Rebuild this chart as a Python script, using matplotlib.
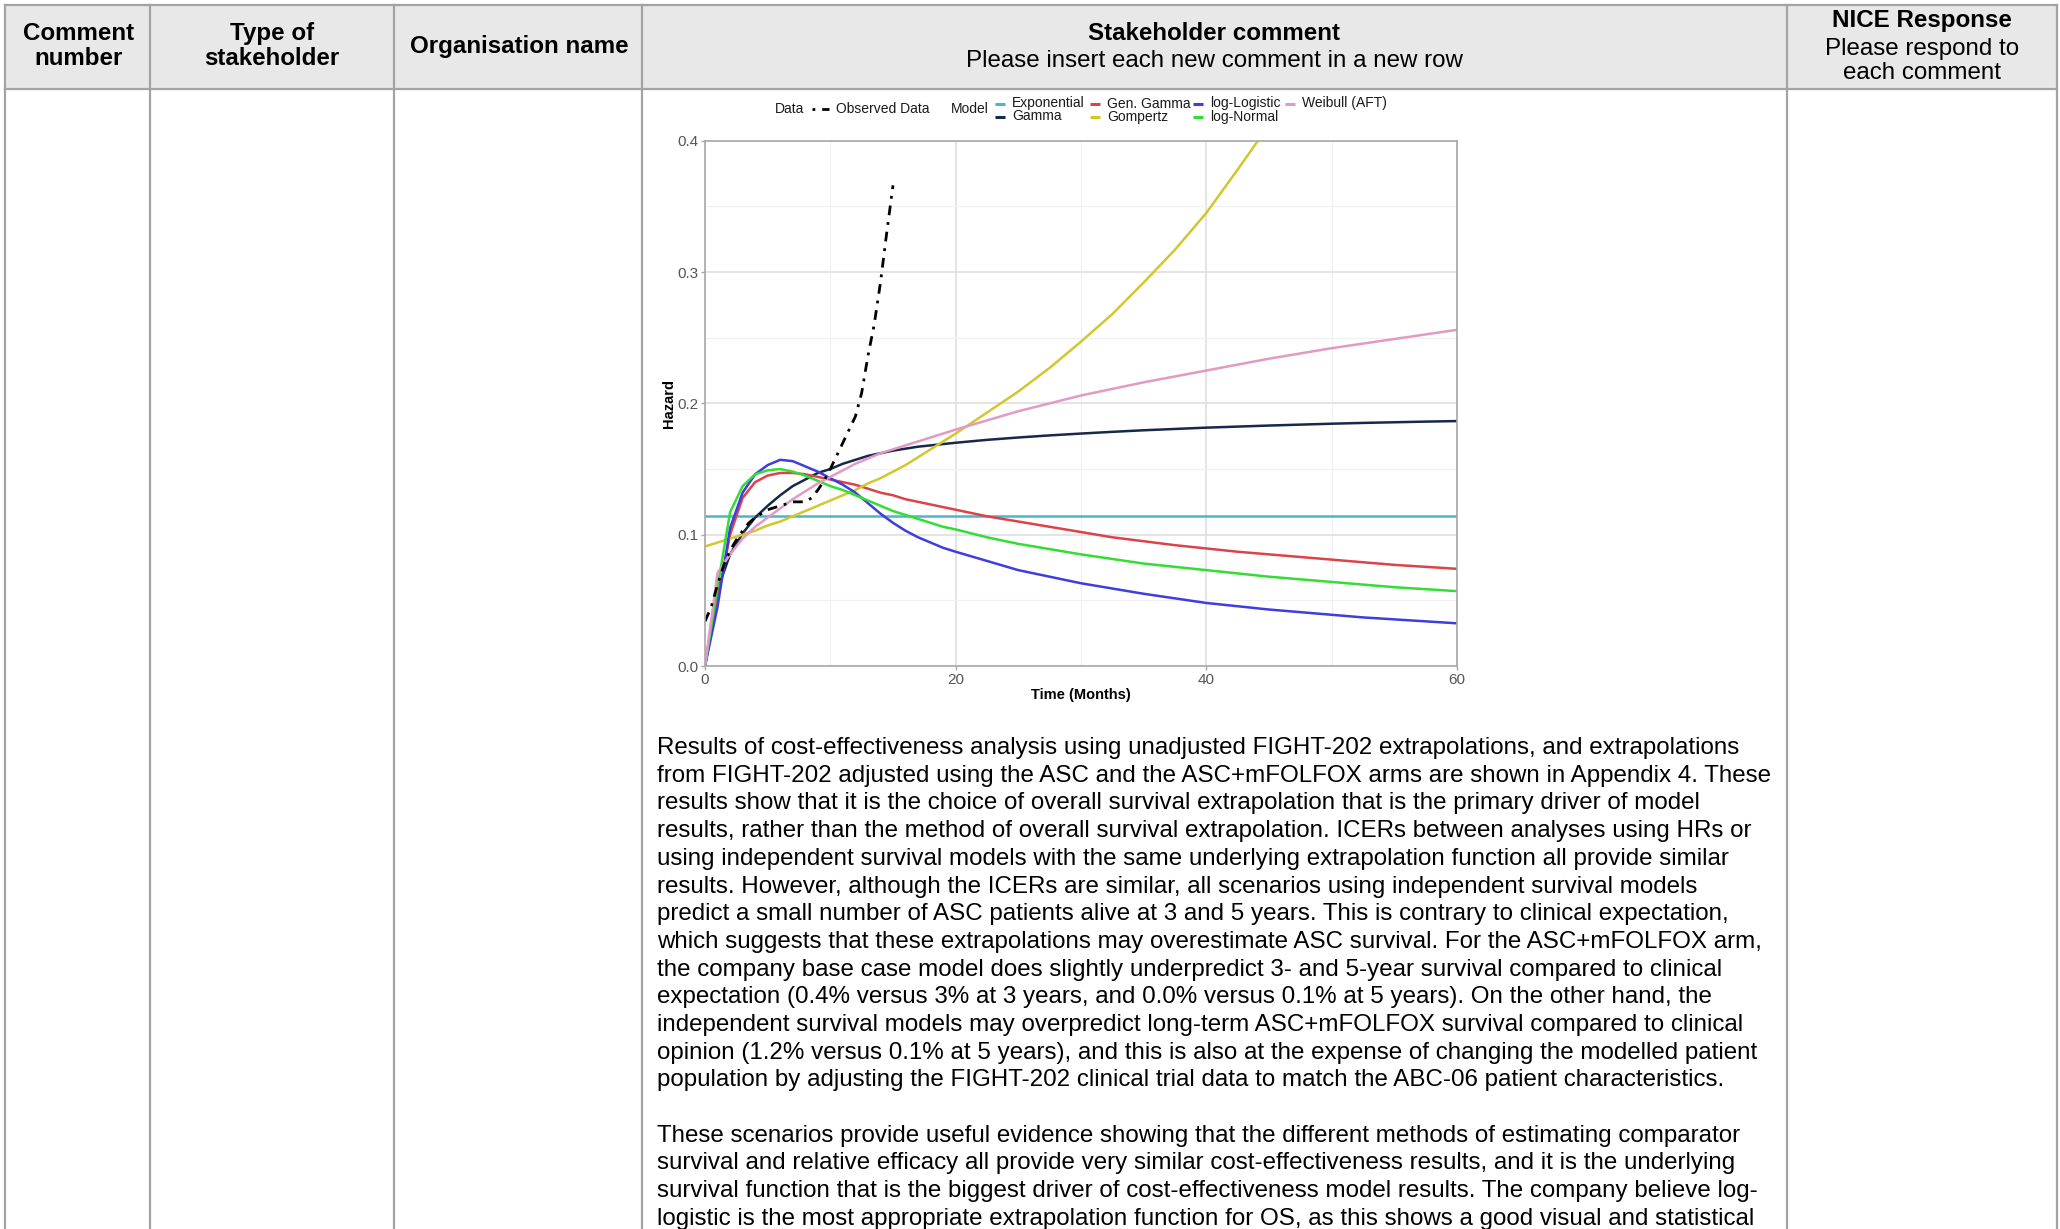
import numpy as np
import matplotlib.pyplot as plt
from matplotlib.patches import Rectangle
from matplotlib.ticker import MultipleLocator

plt.rcParams['font.family'] = ['Liberation Sans', 'DejaVu Sans']

# ---- hazard data (months, hazard) ----
months = [0, 1, 2, 3, 4, 5, 6, 7, 8, 9, 10, 11, 12, 13, 14, 15, 16, 17, 18, 19, 20,
          22.5, 25, 27.5, 30, 32.5, 35, 37.5, 40, 42.5, 45, 47.5, 50, 52.5, 55, 57.5, 60]

haz_exponential = [0.114] * len(months)
haz_gamma = [0, 0.058, 0.085, 0.101, 0.113, 0.122, 0.130, 0.137, 0.142, 0.147, 0.150,
             0.154, 0.157, 0.160, 0.162, 0.164, 0.1655, 0.167, 0.168, 0.169, 0.170,
             0.1722, 0.1740, 0.1756, 0.1770, 0.1783, 0.1795, 0.1805, 0.1815, 0.1823, 0.1831,
             0.1838, 0.1845, 0.1851, 0.1856, 0.1861, 0.1865]
haz_gen_gamma = [0, 0.050, 0.100, 0.128, 0.140, 0.145, 0.147, 0.147, 0.146, 0.144, 0.142,
                 0.140, 0.138, 0.135, 0.132, 0.130, 0.127, 0.125, 0.123, 0.121, 0.119,
                 0.114, 0.110, 0.106, 0.102, 0.098, 0.095, 0.092, 0.0895, 0.087, 0.085,
                 0.083, 0.081, 0.079, 0.077, 0.0755, 0.074]
haz_gompertz = [0.091, 0.094, 0.097, 0.100, 0.103, 0.107, 0.110, 0.114, 0.118, 0.122, 0.126,
                0.130, 0.134, 0.139, 0.143, 0.148, 0.153, 0.159, 0.165, 0.171, 0.177,
                0.193, 0.209, 0.227, 0.247, 0.268, 0.292, 0.317, 0.345, 0.378, 0.412,
                np.nan, np.nan, np.nan, np.nan, np.nan, np.nan]
haz_loglogistic = [0, 0.045, 0.105, 0.132, 0.146, 0.153, 0.157, 0.156, 0.152, 0.148, 0.143,
                   0.138, 0.132, 0.124, 0.116, 0.109, 0.103, 0.098, 0.094, 0.090, 0.087,
                   0.080, 0.073, 0.068, 0.063, 0.059, 0.055, 0.0515, 0.048, 0.0455, 0.043,
                   0.041, 0.039, 0.037, 0.0355, 0.034, 0.0325]
haz_lognormal = [0, 0.060, 0.117, 0.137, 0.146, 0.149, 0.150, 0.148, 0.145, 0.141, 0.137,
                 0.134, 0.130, 0.126, 0.122, 0.118, 0.115, 0.112, 0.109, 0.106, 0.104,
                 0.098, 0.093, 0.089, 0.085, 0.0815, 0.078, 0.0755, 0.073, 0.0705, 0.068,
                 0.066, 0.064, 0.062, 0.060, 0.0585, 0.057]
haz_weibull = [0, 0.071, 0.085, 0.097, 0.106, 0.113, 0.120, 0.127, 0.133, 0.139, 0.144,
               0.149, 0.154, 0.158, 0.162, 0.165, 0.168, 0.171, 0.174, 0.177, 0.180,
               0.187, 0.194, 0.200, 0.206, 0.211, 0.216, 0.2205, 0.225, 0.2295, 0.234,
               0.238, 0.242, 0.2455, 0.249, 0.2525, 0.256]

obs_months = [0, 0.5, 1, 1.5, 2, 2.5, 3, 3.5, 4, 5, 6, 7, 8, 8.5, 9, 9.5, 10, 10.5, 11, 11.5,
              12, 12.5, 13, 13.5, 14, 14.5, 15]
obs_hazard = [0.034, 0.045, 0.062, 0.077, 0.088, 0.096, 0.103, 0.109, 0.113, 0.119, 0.122, 0.125,
              0.125, 0.128, 0.134, 0.141, 0.150, 0.160, 0.170, 0.180, 0.190, 0.208, 0.236, 0.260,
              0.292, 0.330, 0.366]

model_names = ["Exponential", "Gamma", "Gen. Gamma", "Gompertz", "log-Logistic", "log-Normal", "Weibull (AFT)"]
model_values = [haz_exponential, haz_gamma, haz_gen_gamma, haz_gompertz, haz_loglogistic, haz_lognormal, haz_weibull]
model_colors = ["#4db5cb", "#17294a", "#dc4348", "#d2c72c", "#3d3de0", "#33dd33", "#e39ac2"]

x_ticks = [0, 20, 40, 60]
y_ticks = [0.0, 0.1, 0.2, 0.3, 0.4]
y_tick_labels = ["0.0", "0.1", "0.2", "0.3", "0.4"]

# ---- comment text ----
para1 = [
    "Results of cost-effectiveness analysis using unadjusted FIGHT-202 extrapolations, and extrapolations",
    "from FIGHT-202 adjusted using the ASC and the ASC+mFOLFOX arms are shown in Appendix 4. These",
    "results show that it is the choice of overall survival extrapolation that is the primary driver of model",
    "results, rather than the method of overall survival extrapolation. ICERs between analyses using HRs or",
    "using independent survival models with the same underlying extrapolation function all provide similar",
    "results. However, although the ICERs are similar, all scenarios using independent survival models",
    "predict a small number of ASC patients alive at 3 and 5 years. This is contrary to clinical expectation,",
    "which suggests that these extrapolations may overestimate ASC survival. For the ASC+mFOLFOX arm,",
    "the company base case model does slightly underpredict 3- and 5-year survival compared to clinical",
    "expectation (0.4% versus 3% at 3 years, and 0.0% versus 0.1% at 5 years). On the other hand, the",
    "independent survival models may overpredict long-term ASC+mFOLFOX survival compared to clinical",
    "opinion (1.2% versus 0.1% at 5 years), and this is also at the expense of changing the modelled patient",
    "population by adjusting the FIGHT-202 clinical trial data to match the ABC-06 patient characteristics.",
]
para2 = [
    "These scenarios provide useful evidence showing that the different methods of estimating comparator",
    "survival and relative efficacy all provide very similar cost-effectiveness results, and it is the underlying",
    "survival function that is the biggest driver of cost-effectiveness model results. The company believe log-",
    "logistic is the most appropriate extrapolation function for OS, as this shows a good visual and statistical",
]

W, H = 2060, 1229
fig = plt.figure(figsize=(W / 100, H / 100), dpi=100)

# page layer in pixel coordinates for the table
page = fig.add_axes([0, 0, 1, 1])
page.set_xlim(0, W)
page.set_ylim(H, 0)
page.axis("off")

col_x = [5, 150, 394, 642, 1787, 2057]
top, head_bot = 5, 89
line_col = "#a3a3a3"
page.add_patch(Rectangle((col_x[0], top), col_x[-1] - col_x[0], head_bot - top,
                         facecolor="#e8e8e8", edgecolor="none"))
for y in (top, head_bot):
    page.plot([col_x[0], col_x[-1]], [y, y], color=line_col, lw=1.6)
for x in col_x:
    page.plot([x, x], [top, H], color=line_col, lw=1.6)

fs = 17.4
ls = 1.14
page.text(79, 46, "Comment\nnumber", ha="center", va="center", fontsize=fs, weight="bold", linespacing=ls)
page.text(272, 46, "Type of\nstakeholder", ha="center", va="center", fontsize=fs, weight="bold", linespacing=ls)
page.text(519, 46, "Organisation name", ha="center", va="center", fontsize=fs, weight="bold")
page.text(1214, 33, "Stakeholder comment", ha="center", va="center", fontsize=fs, weight="bold")
page.text(1214, 61, "Please insert each new comment in a new row", ha="center", va="center", fontsize=fs)
page.text(1922, 20, "NICE Response", ha="center", va="center", fontsize=fs, weight="bold")
page.text(1922, 61, "Please respond to\neach comment", ha="center", va="center", fontsize=fs, linespacing=ls)

# body paragraphs
y0, step = 748, 27.7
for i, s in enumerate(para1):
    page.text(657, y0 + i * step, s, ha="left", va="center", fontsize=fs)
for i, s in enumerate(para2):
    page.text(657, y0 + (len(para1) + 1 + i) * step, s, ha="left", va="center", fontsize=fs)

# legend above the plot
leg_fs = 10
leg_y = 109
page.text(775, leg_y, "Data", ha="left", va="center", fontsize=leg_fs, color="#1a1a1a")
page.plot([812, 829], [leg_y, leg_y], color="black", lw=2, linestyle=(0, (1, 2.5, 3, 2.5)))
page.text(836, leg_y, "Observed Data", ha="left", va="center", fontsize=leg_fs, color="#1a1a1a")
page.text(951, leg_y, "Model", ha="left", va="center", fontsize=leg_fs, color="#1a1a1a")
key_x = [995, 1090, 1193, 1285]
row_y = [103.5, 116.5]
for k, (name, c) in enumerate(zip(model_names, model_colors)):
    cx, ry = key_x[k // 2], row_y[k % 2]
    page.plot([cx, cx + 10], [ry, ry], color=c, lw=2.2, solid_capstyle="butt")
    page.text(cx + 17, ry, name, ha="left", va="center", fontsize=leg_fs, color="#1a1a1a")

# hazard plot
ax = fig.add_axes([705 / W, 1 - 666 / H, 752 / W, 525.3 / H])
ax.set_xlim(0, 60)
ax.set_ylim(0, 0.4)
ax.xaxis.set_major_locator(MultipleLocator(20))
ax.xaxis.set_minor_locator(MultipleLocator(10))
ax.yaxis.set_minor_locator(MultipleLocator(0.05))
ax.set_xticks(x_ticks)
ax.set_yticks(y_ticks)
ax.set_yticklabels(y_tick_labels)
ax.grid(which="major", color="#dddddd", lw=1.1)
ax.grid(which="minor", color="#f1f1f1", lw=0.9)
ax.set_axisbelow(True)
for sp in ax.spines.values():
    sp.set_color("#a8a8a8")
    sp.set_linewidth(1.2)
ax.tick_params(which="major", length=3, width=1, color="#a8a8a8", labelsize=11,
               labelcolor="#555555", pad=2)
ax.tick_params(which="minor", length=0)

for name, vals, c in zip(model_names, model_values, model_colors):
    ax.plot(months, vals, color=c, lw=1.8, label=name)
ax.plot(obs_months, obs_hazard, color="black", lw=2, linestyle=(0, (3.5, 2.5, 1, 2.5)))

ax.set_xlabel("Time (Months)", fontsize=10.5, weight="bold", labelpad=1)
ax.set_ylabel("Hazard", fontsize=10.5, weight="bold", labelpad=1)

fig.savefig("out.png", dpi=100)
